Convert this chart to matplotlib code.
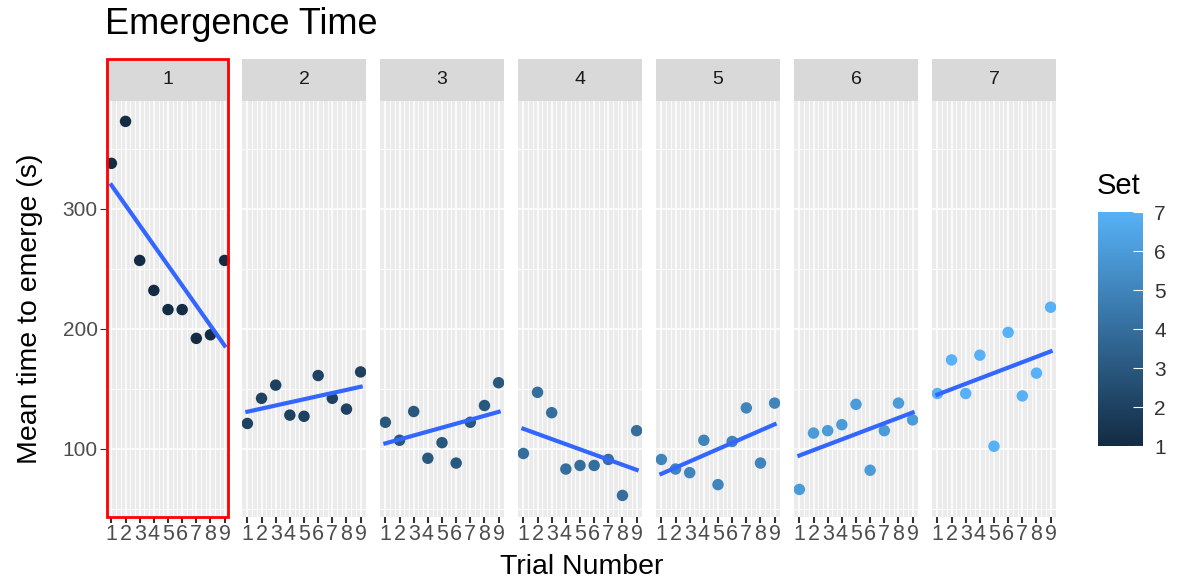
import numpy as np
import matplotlib.pyplot as plt
import matplotlib as mpl
from matplotlib.colors import LinearSegmentedColormap
from matplotlib.patches import Rectangle

# Mean time to emerge (s) per trial, one list per set
trials = [1, 2, 3, 4, 5, 6, 7, 8, 9]
sets = [1, 2, 3, 4, 5, 6, 7]
set1 = [338, 373, 257, 232, 216, 216, 192, 195, 257]
set2 = [121, 142, 153, 128, 127, 161, 142, 133, 164]
set3 = [122, 107, 131, 92, 105, 88, 122, 136, 155]
set4 = [96, 147, 130, 83, 86, 86, 91, 61, 115]
set5 = [91, 83, 80, 107, 70, 106, 134, 88, 138]
set6 = [66, 113, 115, 120, 137, 82, 115, 138, 124]
set7 = [146, 174, 146, 178, 102, 197, 144, 163, 218]
values = [set1, set2, set3, set4, set5, set6, set7]

cmap = LinearSegmentedColormap.from_list("gg", ["#132B43", "#56B1F7"])
norm = mpl.colors.Normalize(vmin=1, vmax=7)

plt.rcParams["font.family"] = ["Liberation Sans", "DejaVu Sans"]
fig = plt.figure(figsize=(11.77, 5.84), dpi=100)
W, H = 1177, 584

def box(x0, y0, x1, y1):
    return [x0 / W, 1 - y1 / H, (x1 - x0) / W, (y1 - y0) / H]

lefts = [106, 242, 380, 518, 656, 794, 932]
pw = 124
top, strip_h, bottom = 59, 42, 517

for i, s in enumerate(sets):
    x0 = lefts[i]
    ax = fig.add_axes(box(x0, top + strip_h, x0 + pw, bottom))
    ax.set_facecolor("#EBEBEB")
    ax.set_xlim(0.62, 9.38)
    ax.set_ylim(43, 390)
    ax.set_xticks(trials)
    ax.set_xticks(np.arange(1, 9.01, 1 / 3), minor=True)
    ax.set_yticks([100, 200, 300])
    ax.set_yticks([50, 150, 250, 350], minor=True)
    ax.grid(which="major", color="white", lw=1.1)
    ax.grid(which="minor", color="white", lw=0.6)
    ax.set_axisbelow(True)
    for sp in ax.spines.values():
        sp.set_visible(False)
    ax.tick_params(which="minor", length=0)
    ax.tick_params(axis="x", which="major", length=4, width=1.5, color="#333333",
                   labelsize=15.5, labelcolor="#4D4D4D", pad=1)
    if i == 0:
        ax.tick_params(axis="y", which="major", length=4, color="#333333",
                       labelsize=15, labelcolor="#4D4D4D", pad=2)
        ax.set_ylabel("Mean time to emerge (s)", fontsize=20.5, color="black", labelpad=14)
    else:
        ax.tick_params(axis="y", which="major", length=0, labelleft=False)
    ax.set_xticklabels([str(t) for t in trials])
    y = np.array(values[i], dtype=float)
    x = np.array(trials, dtype=float)
    ax.scatter(x, y, s=68, color=cmap(norm(s)), zorder=3, edgecolors="none")
    m, b = np.polyfit(x, y, 1)
    ax.plot([1, 9], [m * 1 + b, m * 9 + b], color="#3366FF", lw=3, zorder=4)

    # strip label
    sax = fig.add_axes(box(x0, top, x0 + pw, top + strip_h))
    sax.set_facecolor("#D9D9D9")
    sax.set_xticks([])
    sax.set_yticks([])
    for sp in sax.spines.values():
        sp.set_visible(False)
    sax.text(0.5, 0.5, str(s), ha="center", va="center", fontsize=14, color="#1A1A1A",
             transform=sax.transAxes)

# red box around the first set
fig.patches.append(Rectangle((107 / W, 1 - 517 / H), 121 / W, (517 - 59) / H,
                             transform=fig.transFigure, fill=False, edgecolor="red",
                             lw=2, zorder=10))

fig.text(105 / W, 1 - 24 / H, "Emergence Time", fontsize=26, va="center", ha="left")
fig.text((107 + 1056) / 2 / W, 1 - 567 / H, "Trial Number", fontsize=20.5, ha="center", va="center")

# colour bar
cax = fig.add_axes(box(1098, 212, 1143, 446))
cb = mpl.colorbar.ColorbarBase(cax, cmap=cmap, norm=norm, ticks=sets)
cb.outline.set_visible(False)
cax.tick_params(length=7, color="white", labelsize=15, labelcolor="#333333",
                direction="in", pad=8)
fig.text(1097 / W, 1 - 186 / H, "Set", fontsize=21, ha="left", va="center")

fig.savefig("out.png", dpi=100, facecolor="white")
